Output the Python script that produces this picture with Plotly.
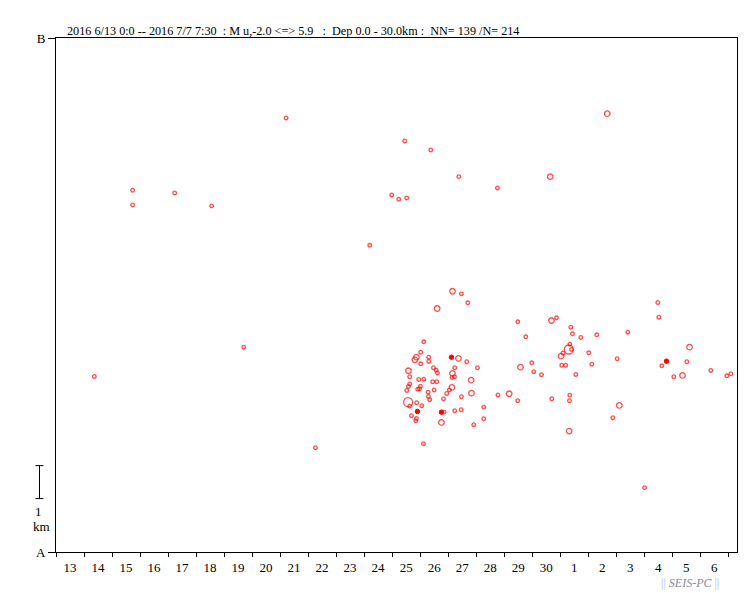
import plotly.graph_objects as go

# ---- data ----
# time axis: days since 2016-06-13 00:00 ; vertical axis: distance along A-B (km)
day_ticks = ["13", "14", "15", "16", "17", "18", "19", "20", "21", "22", "23", "24",
             "25", "26", "27", "28", "29", "30", "1", "2", "3", "4", "5", "6"]
t_end = 24.3125          # 2016 7/7 7:30
ab_len_km = 15.59

days = [8.214, 19.679, 12.450, 13.379, 14.379, 17.643, 15.761, 2.736, 4.236, 2.736,
        5.557, 11.986, 12.236, 12.521, 11.200, 6.700, 1.368, 9.261, 13.118, 21.011,
        14.154, 14.475, 14.700, 13.607, 13.129, 13.021, 12.868, 12.814, 13.307, 13.307,
        13.021, 14.368, 14.664, 12.582, 13.475, 13.571, 13.618, 14.236, 15.046, 14.154,
        14.225, 14.143, 12.629, 12.950, 13.129, 13.450, 13.593, 14.821, 12.629, 12.582,
        13.011, 12.914, 12.975, 12.521, 13.286, 13.500, 14.136, 14.046, 13.950, 14.832,
        13.296, 13.343, 13.832, 14.475, 15.779, 12.571, 12.629, 12.879, 13.057, 13.857,
        14.236, 14.464, 15.271, 12.689, 12.868, 12.843, 13.761, 14.914, 15.271, 16.486,
        17.689, 17.868, 18.379, 18.439, 18.736, 19.307, 20.414, 16.771, 18.343, 18.307,
        18.404, 18.100, 18.029, 19.021, 16.986, 16.582, 18.057, 18.200, 19.129, 20.036,
        17.057, 17.332, 18.557, 16.179, 16.486, 17.700, 18.343, 18.332, 18.321, 20.111,
        19.879, 21.486, 21.521, 21.629, 22.521, 22.618, 22.368, 22.057, 23.379, 23.950,
        24.093]
dist_km = [13.164, 13.294, 12.467, 12.194, 11.385, 11.385, 11.042, 10.970, 10.891, 10.527,
           10.497, 10.830, 10.697, 10.739, 9.303, 6.212, 5.324, 3.164, 3.285, 1.952,
           7.909, 7.830, 7.558, 7.385, 6.376, 6.061, 5.909, 5.830, 5.909, 5.779,
           5.709, 5.870, 5.770, 5.497, 5.588, 5.515, 5.430, 5.588, 5.588, 5.415,
           5.315, 5.294, 5.315, 5.233, 5.242, 5.164, 5.164, 5.212, 5.097, 5.021,
           5.030, 4.939, 4.952, 4.900, 4.848, 4.915, 4.991, 4.915, 4.809, 4.818,
           4.718, 4.618, 4.648, 4.709, 4.764, 4.545, 4.424, 4.527, 4.436, 4.242,
           4.285, 4.315, 4.394, 4.133, 4.052, 3.982, 3.930, 3.861, 4.042, 6.982,
           7.021, 7.103, 6.818, 6.618, 6.506, 6.588, 6.667, 6.527, 6.303, 6.142,
           6.142, 6.036, 5.939, 6.042, 5.739, 5.606, 5.664, 5.664, 5.697, 5.861,
           5.470, 5.376, 5.385, 4.800, 4.588, 4.648, 4.758, 4.588, 3.667, 4.445,
           4.073, 7.567, 7.121, 5.648, 5.770, 6.212, 5.355, 5.315, 5.506, 5.345,
           5.406]
mag = [0.5, 1.5, 0.5, 0.5, 0.5, 1.5, 0.5, 0.5, 0.5, 0.5,
       0.5, 0.5, 0.5, 0.5, 0.5, 0.5, 0.5, 0.5, 0.5, 0.5,
       1.5, 0.5, 0.5, 1.5, 0.5, 0.5, 1.5, 1.5, 0.5, 0.5,
       0.5, 1.5, 0.5, 1.5, 0.5, 0.5, 0.5, 0.5, 0.5, 1.5,
       0.5, 0.5, 0.5, 0.5, 0.5, 0.5, 0.5, 1.5, 0.5, 0.5,
       0.5, 0.5, 0.5, 0.5, 0.5, 0.5, 1.5, 0.5, 0.5, 1.5,
       0.5, 0.5, 0.5, 0.5, 0.5, 2.5, 0.5, 0.5, 0.5, 0.5,
       0.5, 0.5, 0.5, 0.5, 0.5, 0.5, 1.5, 0.5, 0.5, 0.5,
       1.5, 0.5, 0.5, 0.5, 0.5, 0.5, 0.5, 0.5, 0.5, 2.5,
       0.5, 0.5, 1.5, 0.5, 0.5, 1.5, 0.5, 0.5, 0.5, 0.5,
       0.5, 0.5, 0.5, 1.5, 0.5, 0.5, 0.5, 0.5, 1.5, 1.5,
       0.5, 0.5, 0.5, 0.5, 0.5, 1.5, 1.5, 0.5, 0.5, 0.5,
       0.5]
# overlapping events drawn as solid dots
dup_days = [14.118, 12.904, 13.761, 21.796]
dup_km = [5.909, 4.264, 4.242, 5.788]

title_text = ("2016 6/13 0:0 -- 2016 7/7 7:30\u00a0 : M u,-2.0 &lt;=&gt; 5.9\u00a0\u00a0 :\u00a0 "
              "Dep 0.0 - 30.0km :\u00a0 NN= 139 /N= 214")

# ---- figure ----
RED = "#ff0000"
SERIF = "Liberation Serif, Times New Roman, serif"

# the page puts the figure 8 px in from the top-left corner
L, T, PW, PH = 48, 30, 681, 514


def msize(m):
    if m >= 2:
        return 9
    if m >= 1:
        return 5.5
    return 3.6


fig = go.Figure()
fig.add_trace(go.Scatter(
    x=days, y=dist_km, mode="markers",
    marker=dict(symbol="circle-open", size=[msize(m) for m in mag],
                color=RED, line=dict(color=RED, width=1.3)),
    hoverinfo="skip", showlegend=False))
fig.add_trace(go.Scatter(
    x=dup_days, y=dup_km, mode="markers",
    marker=dict(symbol="circle", size=4.5, color=RED, line=dict(color=RED, width=1)),
    hoverinfo="skip", showlegend=False))

fig.update_layout(
    width=751, height=593,
    margin=dict(l=L, r=751 - L - PW, t=T, b=593 - T - PH),
    paper_bgcolor="white", plot_bgcolor="white",
    font=dict(family=SERIF, size=13, color="black"),
    showlegend=False,
)
fig.update_xaxes(
    range=[0, t_end], showgrid=False, zeroline=False, automargin=False,
    showline=True, linecolor="black", linewidth=1, mirror=True,
    tickmode="array", tickvals=[i + 0.5 for i in range(len(day_ticks))],
    ticktext=day_ticks, ticks="", ticklabelstandoff=3,
    tickfont=dict(family=SERIF, size=13, color="black"),
    minor=dict(tick0=0, dtick=1, ticks="outside", ticklen=4, tickcolor="black", tickwidth=1,
               showgrid=False),
)
fig.update_yaxes(
    range=[0, ab_len_km], showgrid=False, zeroline=False, automargin=False,
    showline=True, linecolor="black", linewidth=1, mirror=True,
    tickmode="array", tickvals=[0, ab_len_km], ticktext=["A", "B"],
    ticks="outside", ticklen=7, tickcolor="black",
    tickfont=dict(family=SERIF, size=13, color="black"),
)

# title
fig.add_annotation(xref="paper", yref="paper", x=9 / PW, y=1 + 7 / PH,
                   xanchor="left", yanchor="middle", showarrow=False,
                   text=title_text, font=dict(family=SERIF, size=12.2, color="black"))

# 1 km scale bar (data units on the vertical axis)
bx = -16.5 / PW
bw = 4 / PW
bar_lo, bar_hi = 1.62, 2.62
line_style = dict(color="black", width=1)
fig.add_shape(type="line", xref="paper", yref="y", x0=bx, x1=bx, y0=bar_lo, y1=bar_hi,
              line=line_style)
fig.add_shape(type="line", xref="paper", yref="y", x0=bx - bw, x1=bx + bw, y0=bar_lo, y1=bar_lo,
              line=line_style)
fig.add_shape(type="line", xref="paper", yref="y", x0=bx - bw, x1=bx + bw, y0=bar_hi, y1=bar_hi,
              line=line_style)
fig.add_annotation(xref="paper", yref="y", x=-18 / PW, y=bar_lo - 0.4,
                   showarrow=False, text="1", xanchor="center", yanchor="middle",
                   font=dict(family=SERIF, size=13, color="black"))
fig.add_annotation(xref="paper", yref="y", x=-15 / PW, y=bar_lo - 0.86,
                   showarrow=False, text="km", xanchor="center", yanchor="middle",
                   font=dict(family=SERIF, size=13, color="black"))

# logo
fig.add_annotation(xref="paper", yref="paper", x=603 / PW, y=-31 / PH,
                   xanchor="left", yanchor="middle", showarrow=False,
                   text=("<span style='color:#a9c4ee'>||</span> "
                         "<i><span style='color:#8a8a9a'>SEIS-PC</span></i> "
                         "<span style='color:#a9c4ee'>||</span>"),
                   font=dict(family=SERIF, size=12))

fig.write_html("out.html")
